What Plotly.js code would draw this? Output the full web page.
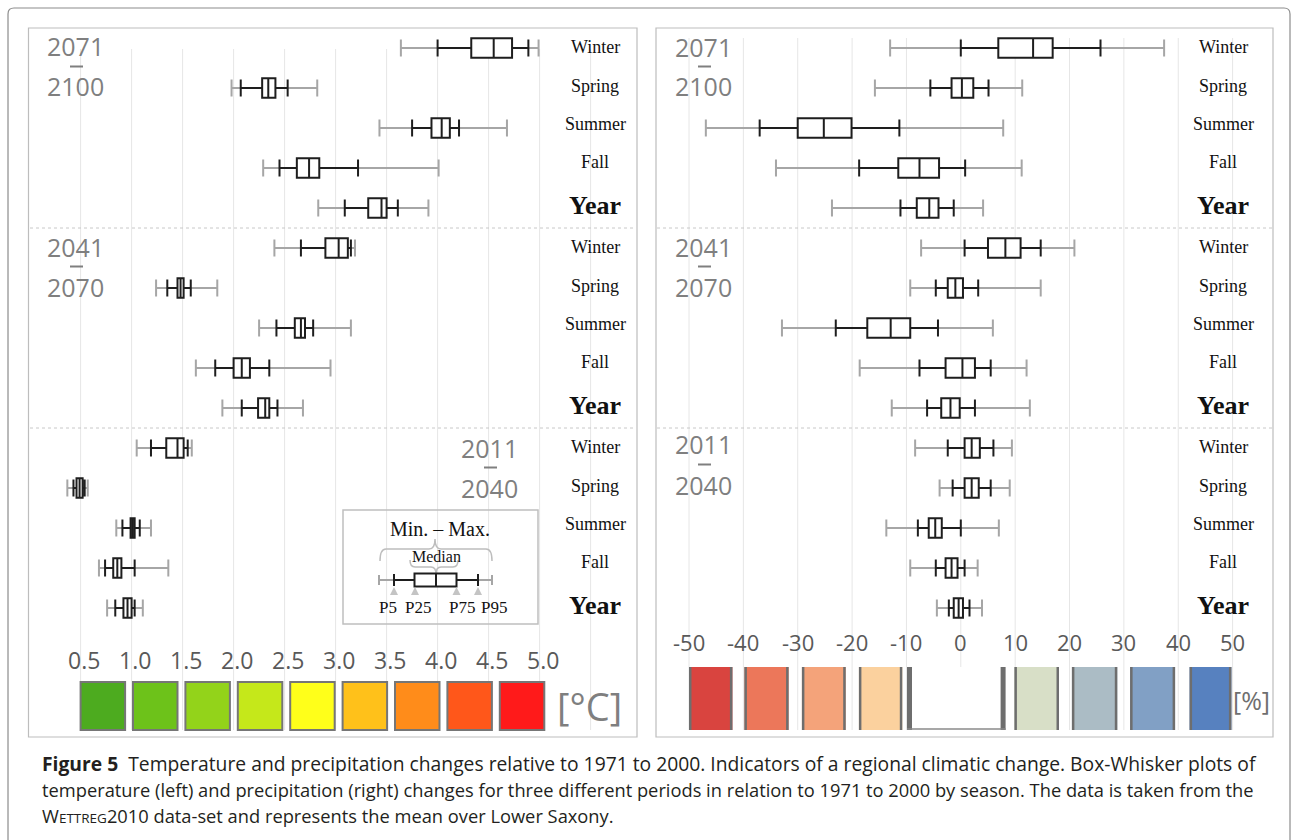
<!DOCTYPE html>
<html><head><meta charset="utf-8">
<script src="https://cdn.plot.ly/plotly-3.0.1.min.js"></script>
<style>html,body{margin:0;padding:0;background:#fff;}#chart{width:1291px;height:840px;}</style>
</head><body><div id="chart"></div>
<script>
// ---------- DATA ----------
const seasons = ["Winter", "Spring", "Summer", "Fall", "Year"];
const periods = [["2071", "2100"], ["2041", "2070"], ["2011", "2040"]];

// Temperature change [°C]; rows: 2071-2100 (W,Sp,Su,F,Y), 2041-2070 (...), 2011-2040 (...)
const tMin = [3.64, 1.98, 3.43, 2.29, 2.83, 2.40, 1.24, 2.25, 1.63, 1.89, 1.05, 0.37, 0.85, 0.68, 0.76];
const tP5  = [4.00, 2.07, 3.75, 2.45, 3.09, 2.66, 1.35, 2.42, 1.82, 2.08, 1.19, 0.43, 0.91, 0.74, 0.84];
const tP25 = [4.33, 2.28, 3.94, 2.62, 3.32, 2.90, 1.45, 2.60, 2.00, 2.24, 1.34, 0.46, 0.99, 0.82, 0.92];
const tMed = [4.55, 2.34, 4.04, 2.74, 3.45, 3.03, 1.48, 2.66, 2.08, 2.31, 1.45, 0.49, 1.01, 0.86, 0.96];
const tP75 = [4.73, 2.41, 4.12, 2.84, 3.50, 3.12, 1.51, 2.70, 2.16, 2.35, 1.51, 0.52, 1.03, 0.90, 1.00];
const tP95 = [4.89, 2.53, 4.21, 3.22, 3.61, 3.15, 1.58, 2.78, 2.35, 2.43, 1.55, 0.54, 1.08, 1.03, 1.03];
const tMax = [4.99, 2.82, 4.68, 4.01, 3.91, 3.19, 1.84, 3.15, 2.95, 2.68, 1.59, 0.57, 1.19, 1.36, 1.11];

// Precipitation change [%]
const pMin = [-13.0, -15.8, -46.9, -34.0, -23.7, -7.3, -9.3, -32.9, -18.6, -12.7, -8.4, -3.9, -13.7, -9.3, -4.4];
const pP5  = [0.0, -5.6, -37.0, -18.7, -11.1, 0.7, -4.6, -23.0, -7.6, -6.2, -2.4, -1.5, -7.9, -4.6, -2.2];
const pP25 = [6.9, -1.7, -30.0, -11.5, -8.1, 5.0, -2.4, -17.2, -2.8, -3.6, 0.7, 0.7, -5.9, -2.8, -1.3];
const pMed = [13.3, 0.2, -25.2, -7.6, -5.8, 8.2, -1.0, -12.9, 0.3, -1.9, 2.0, 2.0, -4.7, -1.7, -0.4];
const pP75 = [16.9, 2.3, -20.1, -4.0, -4.1, 11.0, 0.4, -9.3, 2.6, -0.2, 3.5, 3.3, -3.5, -0.6, 0.4];
const pP95 = [25.7, 5.1, -11.3, 0.8, -1.3, 14.7, 3.2, -4.2, 5.5, 2.6, 6.0, 5.5, 0.0, 0.7, 1.6];
const pMax = [37.4, 11.3, 7.8, 11.2, 4.1, 20.9, 14.7, 5.9, 12.1, 12.7, 9.4, 9.0, 7.0, 3.1, 3.9];

const tTickVals = [0.5, 1.0, 1.5, 2.0, 2.5, 3.0, 3.5, 4.0, 4.5, 5.0];
const tTickText = ["0.5", "1.0", "1.5", "2.0", "2.5", "3.0", "3.5", "4.0", "4.5", "5.0"];
const tGridVals = [0.5, 1.0, 1.5, 2.0, 2.5, 3.0, 3.5, 4.0, 4.5, 5.0, 5.5];
const pTickVals = [-50, -40, -30, -20, -10, 0, 10, 20, 30, 40, 50];
const pTickText = ["-50", "-40", "-30", "-20", "-10", "0", "10", "20", "30", "40", "50"];

const tColors = ["#4dab1f", "#6dc21a", "#93d31a", "#c5e81a", "#ffff1a", "#ffc11a", "#ff8c1a", "#ff571a", "#ff1a1a"];
const pColors = ["#d9443f", "#ec775a", "#f4a37a", "#fbd19e", "#ffffff", "#d8dfc7", "#abbcc5", "#81a0c5", "#5781bf"];

// ---------- LAYOUT HELPERS ----------
const W = 1291, H = 840;
const px = x => x / W;
const py = y => 1 - y / H;
const P = (x, y) => px(x).toFixed(5) + "," + py(y).toFixed(5);
const rows = tMin.map((_, i) => i);

const GRAY = "#a6a6a6", DARK = "#1e1e1e";
const sansFont = "Open Sans, Noto Sans, sans-serif";
const serifFont = "Liberation Serif, DejaVu Serif, serif";

// gray min–max whiskers (base subplot, underneath)
function grayTrace(mn, mx, xa, ya) {
  return {
    type: "scatter", mode: "markers", x: mn, y: rows, xaxis: xa, yaxis: ya,
    marker: {size: 1, color: "rgba(0,0,0,0)"}, hoverinfo: "skip",
    error_x: {type: "data", symmetric: false, array: mx.map((m, i) => m - mn[i]),
      arrayminus: mn.map(() => 0), color: GRAY, thickness: 2, width: 8.5}
  };
}
// box P25–P75 with P5/P95 whiskers (overlay subplot, on top)
function boxTrace(p5, p25, med, p75, p95, xa, ya) {
  return {
    type: "box", orientation: "h", y: rows, xaxis: xa, yaxis: ya,
    q1: p25, median: med, q3: p75, lowerfence: p5, upperfence: p95,
    width: 0.49, whiskerwidth: 0.86, boxpoints: false,
    line: {color: DARK, width: 2}, fillcolor: "#ffffff", hoverinfo: "skip"
  };
}

const data = [
  grayTrace(tMin, tMax, "x", "y"),
  grayTrace(pMin, pMax, "x2", "y2"),
  boxTrace(tP5, tP25, tMed, tP75, tP95, "x3", "y3"),
  boxTrace(pP5, pP25, pMed, pP75, pP95, "x4", "y4")
];

const shapes = [];
const annotations = [];

// outer frame
shapes.push({type: "path", xref: "paper", yref: "paper", layer: "below",
  path: "M" + P(8, 860) + " L" + P(8, 14) + " Q" + P(8, 8) + " " + P(14, 8) + " L" + P(1284, 8) + " Q" + P(1290, 8) + " " + P(1290, 14) + " L" + P(1290, 860),
  line: {color: "#8c8c8c", width: 1.2}});
// panel borders
shapes.push({type: "rect", xref: "paper", yref: "paper", layer: "below", x0: px(28.5), x1: px(637), y0: py(28), y1: py(737), line: {color: "#bdbdbd", width: 1.2}});
shapes.push({type: "rect", xref: "paper", yref: "paper", layer: "below", x0: px(656), x1: px(1273), y0: py(28), y1: py(737), line: {color: "#bdbdbd", width: 1.2}});

// gridlines
tGridVals.forEach(v => shapes.push({type: "line", xref: "x", yref: "paper", layer: "below", x0: v, x1: v, y0: py(730), y1: py(49), line: {color: "#e6e6e6", width: 1}}));
pTickVals.forEach(v => shapes.push({type: "line", xref: "x2", yref: "paper", layer: "below", x0: v, x1: v, y0: py(730), y1: py(38), line: {color: "#e6e6e6", width: 1}}));

// dashed separators
[228, 428].forEach(y => {
  shapes.push({type: "line", xref: "paper", yref: "paper", layer: "below", x0: px(30), x1: px(636), y0: py(y), y1: py(y), line: {color: "#c8c8c8", width: 1, dash: "dot"}});
  shapes.push({type: "line", xref: "paper", yref: "paper", layer: "below", x0: px(657), x1: px(1272), y0: py(y), y1: py(y), line: {color: "#c8c8c8", width: 1, dash: "dot"}});
});

// colour scale boxes (left)
tColors.forEach((c, i) => {
  const x0 = 80.6 + 52.4 * i;
  shapes.push({type: "rect", xref: "paper", yref: "paper", x0: px(x0), x1: px(x0 + 44.5), y0: py(730), y1: py(682), fillcolor: c, line: {color: "#767676", width: 2}});
});
// colour scale boxes (right)
const pBoxL = [689, 744.4, 801.9, 858.9, 907, 1014.4, 1071.9, 1130.1, 1189.6];
const pBoxR = [732.4, 788.6, 845.7, 902.3, 1005.6, 1059, 1117.3, 1175.1, 1231.4];
pColors.forEach((c, i) => {
  const x0 = pBoxL[i], x1 = pBoxR[i];
  shapes.push({type: "rect", xref: "paper", yref: "paper", x0: px(x0), x1: px(x1), y0: py(730), y1: py(667), fillcolor: c, line: {width: 0}});
  const sw = (i === 4) ? 5 : 2.5;
  shapes.push({type: "rect", xref: "paper", yref: "paper", x0: px(x0), x1: px(x0 + sw), y0: py(730), y1: py(667), fillcolor: "#6e6e6e", line: {width: 0}});
  shapes.push({type: "rect", xref: "paper", yref: "paper", x0: px(x1 - sw), x1: px(x1), y0: py(730), y1: py(667), fillcolor: "#6e6e6e", line: {width: 0}});
  if (i === 4) shapes.push({type: "line", xref: "paper", yref: "paper", x0: px(x0), x1: px(x1), y0: py(729), y1: py(729), line: {color: "#8a8a8a", width: 1.5}});
});

// legend box (schematic)
shapes.push({type: "rect", xref: "paper", yref: "paper", x0: px(343), x1: px(538), y0: py(624), y1: py(510), line: {color: "#bfbfbf", width: 1.5}});
const LB = "#bdbdbd";
shapes.push({type: "path", xref: "paper", yref: "paper", line: {color: LB, width: 1.5},
  path: "M" + P(380, 561) + " Q" + P(380, 549) + " " + P(386, 549) + " L" + P(429, 549) + " Q" + P(435, 549) + " " + P(435, 539) + " Q" + P(435, 549) + " " + P(441, 549) + " L" + P(486, 549) + " Q" + P(492, 549) + " " + P(492, 561)});
shapes.push({type: "path", xref: "paper", yref: "paper", line: {color: LB, width: 1.5},
  path: "M" + P(410, 560) + " Q" + P(410, 567) + " " + P(415, 567) + " L" + P(431, 567) + " Q" + P(436, 567) + " " + P(436, 574) + " Q" + P(436, 567) + " " + P(441, 567) + " L" + P(453, 567) + " Q" + P(458, 567) + " " + P(458, 560)});
const LY = 580;
shapes.push({type: "line", xref: "paper", yref: "paper", x0: px(379), x1: px(492), y0: py(LY), y1: py(LY), line: {color: GRAY, width: 2}});
[379, 492].forEach(x => shapes.push({type: "line", xref: "paper", yref: "paper", x0: px(x), x1: px(x), y0: py(LY - 5), y1: py(LY + 5), line: {color: GRAY, width: 2}}));
shapes.push({type: "line", xref: "paper", yref: "paper", x0: px(394), x1: px(478), y0: py(LY), y1: py(LY), line: {color: DARK, width: 2}});
[394, 478].forEach(x => shapes.push({type: "line", xref: "paper", yref: "paper", x0: px(x), x1: px(x), y0: py(LY - 6), y1: py(LY + 6), line: {color: DARK, width: 2}}));
shapes.push({type: "rect", xref: "paper", yref: "paper", x0: px(414.5), x1: px(456.5), y0: py(LY + 6.5), y1: py(LY - 6.5), fillcolor: "#fff", line: {color: DARK, width: 2}});
shapes.push({type: "line", xref: "paper", yref: "paper", x0: px(436), x1: px(436), y0: py(LY + 6.5), y1: py(LY - 6.5), line: {color: DARK, width: 2}});
[394, 415, 456.5, 478].forEach(x => shapes.push({type: "path", xref: "paper", yref: "paper", fillcolor: "#c4c4c4", line: {width: 0},
  path: "M" + P(x - 4, 595) + " L" + P(x + 4, 595) + " L" + P(x, 587) + " Z"}));

// ---------- TEXT ----------
function txt(x, y, text, size, color, family, extra) {
  annotations.push(Object.assign({xref: "paper", yref: "paper", x: px(x), y: py(y), text: text, showarrow: false,
    xanchor: "center", yanchor: "middle", font: {size: size, color: color, family: family}}, extra || {}));
}
// season labels
const seasonShift = [1, 2, 4, 6, 3];
[["y", 595], ["y2", 1223]].forEach(([ya, cx]) => {
  rows.forEach(r => {
    const s = seasons[r % 5];
    const isYear = s === "Year";
    annotations.push({xref: "paper", yref: ya, x: px(cx), y: r, yshift: seasonShift[r % 5], text: isYear ? "<b>" + s + "</b>" : s,
      showarrow: false, xanchor: "center", yanchor: "middle",
      font: {size: isYear ? 26 : 18, color: "#111", family: serifFont}});
  });
});
// period labels ("from", dash, "to")
const PG = "#7f7f7f";
const perPos = [
  [75, 45.5, 66.5, 86.5], [75, 246.5, 266.5, 286.5], [489, 448, 467.5, 488],
  [703, 46.5, 66.5, 86.5], [703, 246.5, 266.5, 286.5], [703, 443.5, 464.5, 485]
];
perPos.forEach((p, k) => {
  const per = periods[k % 3];
  txt(p[0], p[1], per[0], 25, PG, sansFont);
  shapes.push({type: "line", xref: "paper", yref: "paper", x0: px(p[0] - 5), x1: px(p[0] + 8), y0: py(p[2]), y1: py(p[2]), line: {color: PG, width: 2}});
  txt(p[0], p[3], per[1], 25, PG, sansFont);
});
// tick labels
tTickVals.forEach((v, i) => annotations.push({xref: "x", yref: "paper", x: v, y: py(660), xshift: 3, text: tTickText[i], showarrow: false,
  xanchor: "center", yanchor: "middle", font: {size: 23, color: "#595959", family: sansFont}}));
pTickVals.forEach((v, i) => annotations.push({xref: "x2", yref: "paper", x: v, y: py(642), text: pTickText[i], showarrow: false,
  xanchor: "center", yanchor: "middle", font: {size: 22, color: "#595959", family: sansFont}}));
// units
txt(589, 706, "[°C]", 38, "#7f7f7f", sansFont);
txt(1251, 700, "[%]", 25, "#6f6f6f", sansFont);
// legend texts
txt(440, 529, "Min. – Max.", 20, "#111", serifFont);
txt(436, 556, "Median", 16, "#111", serifFont);
[[388, "P5"], [418, "P25"], [462, "P75"], [494, "P95"]].forEach(([x, t]) => txt(x, 607, t, 17, "#111", serifFont));
// caption
const capFont = "Open Sans, Noto Sans, sans-serif";
const capLines = [
  "<b>Figure 5</b>  Temperature and precipitation changes relative to 1971 to 2000. Indicators of a regional climatic change. Box-Whisker plots of",
  "temperature (left) and precipitation (right) changes for three different periods in relation to 1971 to 2000 by season. The data is taken from the",
  "W<span style=\"font-size:13.5px\">ETTREG</span>2010 data-set and represents the mean over Lower Saxony."
];
const capSizes = [19.3, 18.3, 18.3];
[763, 789, 815].forEach((y, i) => txt(40, y, capLines[i], capSizes[i], "#231f20", capFont, {xanchor: "left"}));

const xr1 = [0.5 - (80.6 - 31) / 102, 0.5 + (637 - 80.6) / 102];
const xr2 = [-50 - (689 - 657) / 5.436, 50 + (1273 - 1232.6) / 5.436];
const ydom = [py(628), py(28)];
const yr = [14.5, -0.5];
const hidden = {showgrid: false, zeroline: false, showticklabels: false, ticks: "", showline: false, fixedrange: true};
const layout = {
  width: W, height: H, margin: {l: 0, r: 0, t: 0, b: 0}, showlegend: false,
  paper_bgcolor: "#ffffff", plot_bgcolor: "rgba(0,0,0,0)",
  xaxis: Object.assign({domain: [px(31), px(637)], range: xr1, anchor: "y"}, hidden),
  yaxis: Object.assign({domain: ydom, range: yr, type: "linear", anchor: "x"}, hidden),
  xaxis2: Object.assign({domain: [px(657), px(1273)], range: xr2, anchor: "y2"}, hidden),
  yaxis2: Object.assign({domain: ydom, range: yr, type: "linear", anchor: "x2"}, hidden),
  xaxis3: Object.assign({overlaying: "x", range: xr1, anchor: "y3"}, hidden),
  yaxis3: Object.assign({overlaying: "y", range: yr, type: "linear", anchor: "x3"}, hidden),
  xaxis4: Object.assign({overlaying: "x2", range: xr2, anchor: "y4"}, hidden),
  yaxis4: Object.assign({overlaying: "y2", range: yr, type: "linear", anchor: "x4"}, hidden),
  shapes: shapes, annotations: annotations
};
Plotly.newPlot("chart", data, layout, {staticPlot: true, displayModeBar: false});
</script></body></html>
